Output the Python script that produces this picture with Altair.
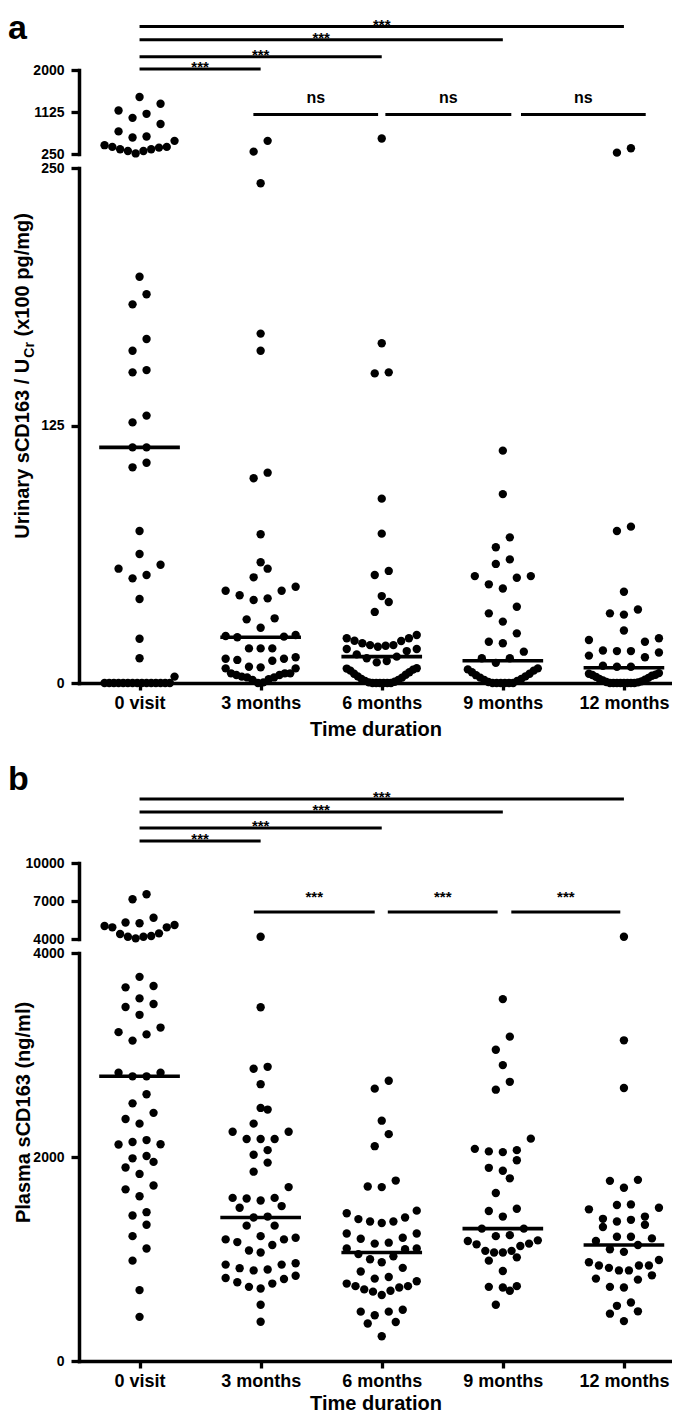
import altair as alt
import pandas as pd

FONT = "Liberation Sans"
CATEGORIES = ["0 visit", "3 months", "6 months", "9 months", "12 months"]

# ---------------- panel a : urinary sCD163 / UCr (x100 pg/mg) ----------------
# values above the axis break (250 - 2000)
A_UPPER_0 = [1437, 1298, 1157, 1087, 1003, 876, 721, 615, 594, 524, 434, 398, 398, 383, 349, 349, 313, 313, 262]
A_UPPER_3 = [524, 299]
A_UPPER_6 = [573]
A_UPPER_9 = []
A_UPPER_12 = [370, 278]
# values below the axis break (0 - 250)
A_LOWER_0 = [197.2, 188.7, 183.8, 167.0, 161.3, 151.9, 150.8, 129.8, 126.5, 114.4, 114.4, 106.9, 104.7,
             73.8, 62.6, 57.4, 55.5, 52.4, 50.8, 40.8, 21.5, 12.0, 3.1,
             0, 0, 0, 0, 0, 0, 0, 0, 0, 0, 0, 0, 0, 0, 0]
A_LOWER_3 = [242.6, 169.6, 161.3, 102.1, 99.4, 72.2, 58.6, 55.5, 51.3, 46.7, 44.8, 44.8, 42.6, 41.1, 40.3,
             31.4, 30.9, 26.8, 23.3, 22.8, 22.5, 22.2, 16.8, 16.8, 16.8, 12.5, 11.8, 11.8, 11.2, 10.8,
             7.9, 7.6, 7.1, 7.1, 4.7, 4.7, 4.7, 3.9, 3.9, 3.1, 2.7, 2.7, 1.8, 1.5, 0.3, 0]
A_LOWER_6 = [164.9, 150.8, 150.3, 89.5, 72.5, 54.4, 52.4, 42.2, 39.3, 34.5, 23.3, 21.7, 21.7, 20.5, 20.4,
             19.3, 18.4, 18.4, 18.1, 17.6, 16.5, 16.5, 15.5, 13.9, 12.8, 12.0, 10.7, 10.0,
             7.2, 7.0, 6.5, 6.0, 5.2, 4.5, 4.0, 3.2, 2.6, 2.0, 1.5, 1.0, 0.6, 0.3, 0, 0, 0, 0, 0, 0]
A_LOWER_9 = [112.8, 91.7, 70.7, 65.9, 60.0, 57.8, 51.9, 51.9, 51.1, 47.9, 45.9, 37.0, 33.8, 29.8, 24.1,
             20.0, 19.3, 15.2, 12.0, 12.0, 9.8, 7.1, 6.6, 6.0, 5.2, 4.5, 3.8, 3.2, 2.6, 2.0, 1.5, 1.0,
             0.5, 0, 0, 0, 0, 0, 0]
A_LOWER_12 = [75.9, 73.8, 44.3, 35.7, 33.8, 33.2, 25.5, 21.7, 20.9, 20.0, 15.8, 15.5, 15.5, 14.8, 13.3,
              12.5, 8.4, 7.9, 7.9, 3.9, 4.8, 4.5, 4.0, 3.5, 3.0, 2.5, 2.0, 1.6, 1.2, 0.8, 0.5, 0.3,
              0, 0, 0, 0, 0, 0, 0, 0]
A_MEDIANS = [114.4, 22.2, 12.8, 10.8, 7.4]
A_UP_DOMAIN = [250, 2000]
A_UP_TICKS = [250, 1125, 2000]
A_LO_DOMAIN = [0, 250]
A_LO_TICKS = [0, 125, 250]
A_BR_X1 = [0, 0, 0, 0, 0.94, 2.03, 3.15]
A_BR_X2 = [4, 3, 2, 1, 1.97, 3.07, 4.18]
A_BR_Y = [2906, 2632, 2274, 2021, 1073, 1073, 1073]
A_BR_LABEL = ["***", "***", "***", "***", "ns", "ns", "ns"]
A_BR_KIND = ["top", "top", "top", "top", "mid", "mid", "mid"]

# ---------------- panel b : plasma sCD163 (ng/ml) ----------------
B_UPPER_0 = [7529, 7134, 5681, 5300, 5240, 5105, 5026, 4923, 4923, 4447, 4395, 4234, 4181, 4181, 4050]
B_UPPER_3 = [4181]
B_UPPER_6 = []
B_UPPER_9 = []
B_UPPER_12 = [4181]
B_LOWER_0 = [3766, 3676, 3663, 3555, 3500, 3471, 3394, 3269, 3224, 3202, 3141, 2827, 2827, 2791, 2791,
             2615, 2526, 2433, 2372, 2327, 2166, 2147, 2125, 2122, 2010, 1987, 1952, 1897, 1834, 1721,
             1683, 1615, 1459, 1426, 1336, 1224, 1103, 984, 695, 433]
B_LOWER_3 = [3468, 2884, 2865, 2714, 2481, 2465, 2327, 2247, 2247, 2176, 2176, 2176, 2067, 2022, 1945,
             1856, 1705, 1599, 1599, 1593, 1574, 1519, 1503, 1416, 1407, 1327, 1327, 1224, 1208, 1192,
             1192, 1166, 1137, 1083, 1064, 958, 945, 945, 910, 897, 888, 836, 814, 804, 772, 759, 727,
             711, 551, 385]
B_LOWER_6 = [2747, 2670, 2356, 2224, 2106, 1769, 1711, 1705, 1474, 1449, 1407, 1391, 1368, 1368, 1353,
             1250, 1250, 1208, 1199, 1160, 1151, 1103, 1103, 1096, 1048, 1026, 997, 968, 913, 878, 824,
             808, 782, 759, 734, 734, 721, 702, 689, 680, 647, 503, 484, 484, 449, 382, 368, 243]
B_LOWER_9 = [3548, 3180, 3051, 2901, 2737, 2660, 2180, 2080, 2067, 2055, 2048, 1968, 1894, 1865, 1791,
             1647, 1493, 1471, 1416, 1298, 1298, 1234, 1224, 1183, 1176, 1151, 1144, 1128, 1080, 1080,
             1064, 1064, 1016, 984, 882, 734, 727, 721, 689, 551]
B_LOWER_12 = [3144, 2676, 1776, 1766, 1699, 1535, 1529, 1503, 1487, 1416, 1394, 1384, 1368, 1336, 1314,
              1218, 1218, 1202, 1176, 1137, 1096, 1070, 990, 968, 936, 936, 936, 913, 888, 888, 840,
              808, 798, 727, 721, 574, 541, 487, 464, 391]
B_MEDIANS = [2791, 1407, 1064, 1298, 1137]
B_UP_DOMAIN = [4000, 10000]
B_UP_TICKS = [4000, 7000, 10000]
B_LO_DOMAIN = [0, 4000]
B_LO_TICKS = [0, 2000, 4000]
B_BR_X1 = [0, 0, 0, 0, 0.944, 2.05, 3.07]
B_BR_X2 = [4, 3, 2, 1, 1.942, 2.957, 3.97]
B_BR_Y = [15053, 14026, 12763, 11737, 6131, 6131, 6131]
B_BR_LABEL = ["***"] * 7
B_BR_KIND = ["top", "top", "top", "top", "mid", "mid", "mid"]

# ---------------- layout / style ----------------
PLOT_W = 593
X_DOMAIN = [-0.5, 4.397]
STEP = PLOT_W / (X_DOMAIN[1] - X_DOMAIN[0])
A_UP_H, A_LO_H = 84, 515
B_UP_H, B_LO_H = 76, 408
BREAK_GAP = 14
PANEL_GAP = 180
DOT_SIZE = 70
ROW_H = 15.0        # px: values closer than this share a row of the dot plot
DOT_SPACING = 14.0  # px between neighbours in a row
SWARM_HALF = 35.0   # px: widest half-width of a row
MED_HALF = 0.333


def scatter_rows(values, px_per_unit):
    """Prism-like scatter dot plot: group sorted values into rows, spread each row from the centre out."""
    order = sorted(range(len(values)), key=lambda i: values[i])
    rows, cur, start = [], [], 0.0
    for i in order:
        y = values[i] * px_per_unit
        if cur and y - start >= ROW_H:
            rows.append(cur)
            cur = []
        if not cur:
            start = y
        cur.append(i)
    if cur:
        rows.append(cur)
    offs = [0.0] * len(values)
    for row in rows:
        n = len(row)
        s = DOT_SPACING if n == 1 else min(DOT_SPACING, 2 * SWARM_HALF / (n - 1))
        if n % 2:
            slots = [0.0] + [sgn * k * s for k in range(1, n // 2 + 1) for sgn in (-1, 1)]
        else:
            slots = [sgn * (k - 0.5) * s for k in range(1, n // 2 + 1) for sgn in (-1, 1)]
        for idx, slot in zip(row, slots):
            offs[idx] = slot
    return offs


def points_frame(groups, domain, height):
    ppu = height / (domain[1] - domain[0])
    rows = []
    for i, vals in enumerate(groups):
        offs = scatter_rows([v - domain[0] for v in vals], ppu)
        for v, o in zip(vals, offs):
            rows.append({"cat": i, "v": v, "x": i + o / STEP})
    return pd.DataFrame(rows, columns=["cat", "v", "x"])


XSCALE = alt.Scale(domain=X_DOMAIN, nice=False, zero=False)
LABEL_EXPR = "[" + ",".join("'%s'" % c for c in CATEGORIES) + "][datum.value]"


def x_axis(title_y):
    return alt.Axis(values=list(range(len(CATEGORIES))), labelExpr=LABEL_EXPR, title="Time duration",
                    tickSize=7, tickWidth=3.3, domainWidth=3.5, domainCap="square",
                    labelFontSize=18, labelBaseline="alphabetic", labelPadding=18,
                    labelFlush=False, labelOverlap=False, titleFontSize=20, titleFontWeight="bold",
                    titleBaseline="alphabetic", titleY=title_y, grid=False)


def y_axis(ticks, **kw):
    return alt.Axis(values=ticks, format="d", tickSize=8, tickWidth=3.3, domainWidth=3.5,
                    domainCap="square", labelFontSize=14, labelPadding=7, grid=False, **kw)


def upper_chart(groups, domain, ticks, height, bx1, bx2, by, blabel, bkind, letter, letter_dy):
    ysc = alt.Scale(domain=domain, nice=False, zero=False)
    yax = y_axis(ticks, title=None)
    df = points_frame(groups, domain, height)
    pts = alt.Chart(df).mark_circle(size=DOT_SIZE, color="black", opacity=1).encode(
        x=alt.X("x:Q", scale=XSCALE, axis=None),
        y=alt.Y("v:Q", scale=ysc, axis=yax))
    br = pd.DataFrame({"x1": bx1, "x2": bx2, "y": by, "label": blabel, "kind": bkind})
    base = alt.Chart(br).transform_calculate(xm="(datum.x1 + datum.x2) / 2")
    rules = base.mark_rule(color="black", strokeWidth=3).encode(
        x=alt.X("x1:Q", scale=XSCALE, axis=None), x2="x2:Q",
        y=alt.Y("y:Q", scale=ysc, axis=yax))
    top_txt = base.transform_filter("datum.kind == 'top'").mark_text(
        font=FONT, fontSize=15, fontWeight="bold", color="black", baseline="alphabetic", dy=3).encode(
        x=alt.X("xm:Q", scale=XSCALE, axis=None), y=alt.Y("y:Q", scale=ysc, axis=yax), text="label:N")
    is_ns = blabel[-1] == "ns"
    mid_txt = base.transform_filter("datum.kind == 'mid'").mark_text(
        font=FONT, fontSize=16 if is_ns else 15, fontWeight="bold", color="black", baseline="alphabetic",
        dy=-11 if is_ns else -10).encode(
        x=alt.X("xm:Q", scale=XSCALE, axis=None), y=alt.Y("y:Q", scale=ysc, axis=yax), text="label:N")
    return alt.layer(pts, rules, top_txt, mid_txt).properties(
        width=PLOT_W, height=height,
        title=alt.TitleParams(letter, anchor="start", frame="group", orient="top", offset=0,
                              fontSize=34, fontWeight="bold", font=FONT, color="black",
                              baseline="alphabetic", dx=-71, dy=letter_dy))


def lower_chart(groups, medians, domain, ticks, height, ytitle, extra_layers, title_y):
    ysc = alt.Scale(domain=domain, nice=False, zero=False)
    yax = y_axis(ticks, **ytitle)
    xax = x_axis(title_y)
    df = points_frame(groups, domain, height)
    pts = alt.Chart(df).mark_circle(size=DOT_SIZE, color="black", opacity=1).encode(
        x=alt.X("x:Q", scale=XSCALE, axis=xax),
        y=alt.Y("v:Q", scale=ysc, axis=yax))
    med = pd.DataFrame({"cat": list(range(len(medians))), "m": medians})
    med_rules = alt.Chart(med).transform_calculate(
        x1="datum.cat - %f" % MED_HALF, x2="datum.cat + %f" % MED_HALF).mark_rule(
        color="black", strokeWidth=3.6).encode(
        x=alt.X("x1:Q", scale=XSCALE, axis=xax), x2="x2:Q",
        y=alt.Y("m:Q", scale=ysc, axis=yax))
    return alt.layer(pts, med_rules, *extra_layers).properties(width=PLOT_W, height=height)


def rot_text(txt, size, align, xpos, ypos):
    return alt.Chart(pd.DataFrame({"t": [txt]})).mark_text(
        font=FONT, fontSize=size, fontWeight="bold", color="black", angle=270,
        align=align, baseline="alphabetic").encode(
        text="t:N", x=alt.value(xpos), y=alt.value(ypos))


# panel a y title with subscript (Cr)
a_title = [
    rot_text("Urinary sCD163 / U", 20, "right", -50, 190.7),
    rot_text("Cr", 14, "left", -45, 189.7),
    rot_text("(x100 pg/mg)", 20, "left", -50, 168.5),
]

upper_a = upper_chart([A_UPPER_0, A_UPPER_3, A_UPPER_6, A_UPPER_9, A_UPPER_12], A_UP_DOMAIN, A_UP_TICKS,
                      A_UP_H, A_BR_X1, A_BR_X2, A_BR_Y, A_BR_LABEL, A_BR_KIND, "a", 55)
lower_a = lower_chart([A_LOWER_0, A_LOWER_3, A_LOWER_6, A_LOWER_9, A_LOWER_12], A_MEDIANS, A_LO_DOMAIN,
                      A_LO_TICKS, A_LO_H, {"title": None}, a_title, 52)

upper_b = upper_chart([B_UPPER_0, B_UPPER_3, B_UPPER_6, B_UPPER_9, B_UPPER_12], B_UP_DOMAIN, B_UP_TICKS,
                      B_UP_H, B_BR_X1, B_BR_X2, B_BR_Y, B_BR_LABEL, B_BR_KIND, "b", 34)
lower_b = lower_chart([B_LOWER_0, B_LOWER_3, B_LOWER_6, B_LOWER_9, B_LOWER_12], B_MEDIANS, B_LO_DOMAIN,
                      B_LO_TICKS, B_LO_H,
                      {"title": "Plasma sCD163 (ng/ml)", "titleFontSize": 20, "titleFontWeight": "bold",
                       "titleAngle": 270, "titleAlign": "center", "titleBaseline": "alphabetic",
                       "titleX": -50, "titleY": (B_UP_H + BREAK_GAP + B_LO_H) / 2 - B_UP_H - BREAK_GAP},
                      [], 48)

# invisible spacer between the two panels (flat concat keeps the plot areas aligned)
spacer = alt.Chart(pd.DataFrame({"s": [0]})).mark_point(opacity=0).encode(
    x=alt.value(0), y=alt.value(0)).properties(width=PLOT_W, height=PANEL_GAP - 2 * BREAK_GAP)

chart = alt.vconcat(upper_a, lower_a, spacer, upper_b, lower_b, spacing=BREAK_GAP, bounds="flush").properties(
    padding={"left": 0, "top": 3, "right": 0, "bottom": 0}
).configure(font=FONT, background="white").configure_view(stroke=None).configure_axis(
    labelFont=FONT, labelFontWeight="bold", labelColor="black", titleFont=FONT, titleColor="black",
    domainColor="black", tickColor="black", grid=False)

chart.save("out.html", embed_options={"renderer": "svg", "actions": False})
